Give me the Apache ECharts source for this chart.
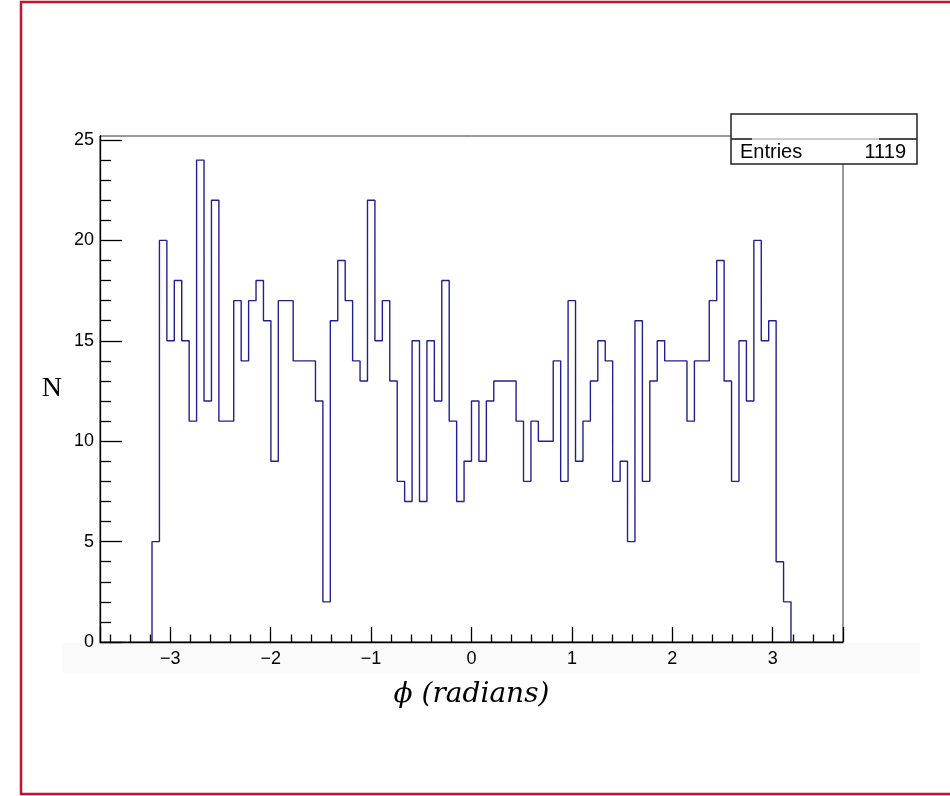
<!DOCTYPE html>
<html>
<head>
<meta charset="utf-8">
<title>phi distribution</title>
<script src="https://cdn.jsdelivr.net/npm/echarts@6/dist/echarts.min.js"></script>
<style>
  html, body { margin: 0; padding: 0; background: #fff; }
  #chart { width: 950px; height: 796px; }
</style>
</head>
<body>
<div id="chart"></div>
<script>
// histogram: 100 bins over [-3.7, 3.7], only bins 7..92 are filled
const binLow = -3.7
const binWidth = 0.074
const firstBin = 7
const counts = [
  5, 20, 15, 18, 15, 11, 24, 12, 22, 11,
  11, 17, 14, 17, 18, 16, 9, 17, 17, 14,
  14, 14, 12, 2, 16, 19, 17, 14, 13, 22,
  15, 17, 13, 8, 7, 15, 7, 15, 12, 18,
  11, 7, 9, 12, 9, 12, 13, 13, 13, 11,
  8, 11, 10, 10, 14, 8, 17, 9, 11, 13,
  15, 14, 8, 9, 5, 16, 8, 13, 15, 14,
  14, 14, 11, 14, 14, 17, 19, 13, 8, 15,
  12, 20, 15, 16, 4, 2
]
const entries = 1119
const yTicks = [0, 5, 10, 15, 20, 25]
const xTitle = 'ϕ (radians)'
const yTitle = 'N'

// outline of the histogram as step points
const edge = i => +(binLow + (firstBin + i) * binWidth).toFixed(4)
const outline = [[edge(0), 0]]
counts.forEach((v, i) => {
  outline.push([edge(i), v])
  outline.push([edge(i + 1), v])
})
outline.push([edge(counts.length), 0])

const minus = v => String(v).replace('-', '\u2212')

const chart = echarts.init(document.getElementById('chart'))
chart.setOption({
  animation: false,
  backgroundColor: '#fff',
  grid: {
    left: 100,
    right: 107,
    top: 136,
    bottom: 154,
    show: true,
    borderColor: '#333',
    borderWidth: 1,
    backgroundColor: 'transparent'
  },
  xAxis: {
    type: 'value',
    min: -3.7,
    max: 3.7,
    splitNumber: 7,
    name: xTitle,
    nameLocation: 'middle',
    nameGap: 39,
    nameTextStyle: { fontFamily: 'DejaVu Serif', fontStyle: 'italic', fontSize: 28, color: '#000' },
    axisLine: { onZero: false, lineStyle: { color: '#000', width: 1.3 } },
    axisTick: { inside: true, length: 15, lineStyle: { color: '#000', width: 1.3 } },
    minorTick: { show: true, splitNumber: 5, length: 7.5, lineStyle: { color: '#000', width: 1.3 } },
    splitLine: { show: false },
    axisLabel: {
      showMinLabel: false,
      showMaxLabel: false,
      margin: 8,
      fontFamily: 'Liberation Sans',
      fontSize: 18,
      color: '#000',
      formatter: v => Number.isInteger(v) ? minus(v) : ''
    }
  },
  yAxis: {
    type: 'value',
    min: 0,
    max: 25.2,
    interval: 5,
    name: yTitle,
    nameLocation: 'middle',
    nameRotate: 0,
    nameGap: 38,
    nameTextStyle: { fontFamily: 'Liberation Serif', fontSize: 28, color: '#000', padding: [0, 0, 48, 0] },
    axisLine: { show: true, onZero: false, lineStyle: { color: '#000', width: 1.3 } },
    axisTick: { inside: true, length: 22, customValues: yTicks, lineStyle: { color: '#000', width: 1.3 } },
    minorTick: { show: true, splitNumber: 5, length: 11, lineStyle: { color: '#000', width: 1.3 } },
    splitLine: { show: false },
    axisLabel: {
      customValues: yTicks,
      margin: 6,
      fontFamily: 'Liberation Sans',
      fontSize: 18,
      color: '#000',
      formatter: v => Number.isInteger(v) ? String(v) : ''
    }
  },
  series: [{
    type: 'line',
    data: outline,
    symbol: 'none',
    lineStyle: { color: '#202090', width: 1.4 },
    z: 3
  }],
  graphic: [
    {
      type: 'rect',
      z: -10,
      shape: { x: 62, y: 643, width: 858, height: 30 },
      style: { fill: '#fafafa' }
    },
    {
      type: 'group',
      z: 100,
      children: [
        {
          type: 'rect',
          shape: { x: 731, y: 114, width: 186, height: 50 },
          style: { fill: '#fff', stroke: '#222', lineWidth: 1.5 }
        },
        {
          type: 'line',
          shape: { x1: 731, y1: 139, x2: 917, y2: 139 },
          style: { stroke: '#999', lineWidth: 1 }
        },
        {
          type: 'line',
          shape: { x1: 731, y1: 139, x2: 752, y2: 139 },
          style: { stroke: '#222', lineWidth: 1.5 }
        },
        {
          type: 'line',
          shape: { x1: 879, y1: 139, x2: 917, y2: 139 },
          style: { stroke: '#222', lineWidth: 1.5 }
        },
        {
          type: 'text',
          style: { x: 740, y: 152, text: 'Entries', fontFamily: 'Liberation Sans', fontSize: 20, fill: '#000', verticalAlign: 'middle' }
        },
        {
          type: 'text',
          style: { x: 906, y: 152, text: String(entries), fontFamily: 'Liberation Sans', fontSize: 20, fill: '#000', align: 'right', verticalAlign: 'middle' }
        }
      ]
    },
    {
      type: 'rect',
      z: 110,
      shape: { x: 21, y: 2, width: 940, height: 792 },
      style: { fill: 'none', stroke: '#c4122f', lineWidth: 2.5 }
    }
  ]
})
</script>
</body>
</html>
